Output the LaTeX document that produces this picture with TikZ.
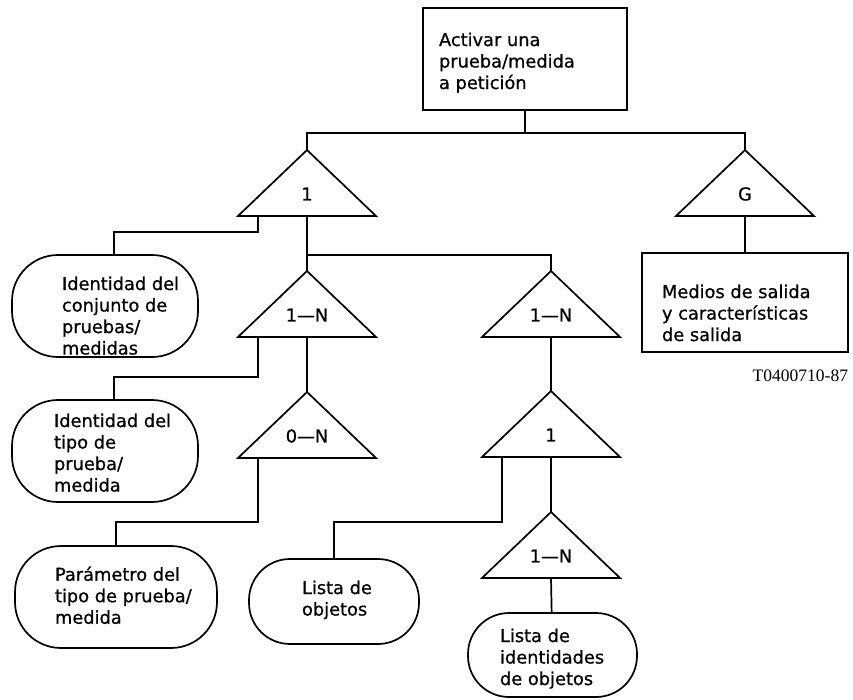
\documentclass[tikz,border=0pt]{standalone}
\usepackage{fontspec}
\setmainfont{DejaVu Sans}[BoldFont=DejaVu Sans, BoldFeatures={FakeBold=0.7}]
\newfontfamily\codefont{Liberation Serif}

% Triangle connector block: name, x, apex y, label
\newcommand{\ctri}[4]{%
  \coordinate (#1) at (#2,#3);
  \coordinate (#1-b) at (#2,#3+66);
  \coordinate (#1-bl) at (#2-49,#3+66);
  \draw[wire, line join=miter] (#2,#3) -- (#2-69,#3+66) -- (#2+69,#3+66) -- cycle;
  \node[tlabel] (#1-t) at (#2,#3+44) {#4};
}

\begin{document}
\begin{tikzpicture}[x=1pt,y=-1pt,
  every node/.style={inner sep=0pt, outer sep=0pt},
  wire/.style={line width=1.7pt},
  boxnode/.style={draw, line width=1.7pt, rectangle},
  pill/.style={draw, line width=1.7pt, rectangle, rounded corners=46pt},
  body/.style={font=\fontsize{17.8}{21.5}\selectfont\bfseries, align=left, anchor=north west},
  tlabel/.style={font=\fontsize{17.8}{21.5}\selectfont\bfseries}
]
\useasboundingbox (0,0) rectangle (853,699);

% boxes and terminal items
\node[boxnode, minimum width=204pt, minimum height=102pt] (act) at (525,59) {};
\node[boxnode, minimum width=206pt, minimum height=99pt] (med) at (745,302.5) {};
\node[pill, minimum width=186pt, minimum height=102pt] (p1) at (105,306) {};
\node[pill, minimum width=186pt, minimum height=102pt] (p2) at (105,451) {};
\node[pill, minimum width=202pt, minimum height=102pt] (p3) at (116,597) {};
\node[pill, rounded corners=41pt, minimum width=170pt, minimum height=85pt] (p4) at (334,601.5) {};
\node[pill, rounded corners=41pt, minimum width=169pt, minimum height=84pt] (p5) at (552.5,655) {};

% texts
\node[body] (act-txt) at (439,46-13.5) {Activar una\\prueba/medida\\a petición};
\node[body] (med-txt) at (662,298-13.5) {Medios de salida\\y características\\de salida};
\node[body] (p1-txt) at (62,290-13.5) {Identidad del\\conjunto de\\pruebas/\\medidas};
\node[body] (p2-txt) at (54,427-13.5) {Identidad del\\tipo de\\prueba/\\medida};
\node[body] (p3-txt) at (55,580-13.5) {Parámetro del\\tipo de prueba/\\medida};
\node[body] (p4-txt) at (302,594-13.5) {Lista de\\objetos};
\node[body] (p5-txt) at (500,642-13.5) {Lista de\\identidades\\de objetos};
\node[font=\codefont\fontsize{17.5}{20}\selectfont, anchor=base east] (code) at (848,381) {T0400710-87};

% triangle blocks
\ctri{t1}{307}{150}{1}
\ctri{tg}{745}{150}{G}
\ctri{t2}{307}{271}{1---N}
\ctri{t3}{551}{271}{1---N}
\ctri{t4}{307}{392}{0---N}
\ctri{t5}{551}{391}{1}
\ctri{t6}{551}{512}{1---N}

% connectors
\coordinate (busL) at (307,133);
\draw[wire] (t1) -- (busL) -| (tg);
\draw[wire] (act) -- (act |- busL);
\draw[wire] (tg-b) -- (med);
\draw[wire] (t1-bl) -- ++(0,16) -| ([xshift=9pt]p1.north);
\draw[wire] (t1-b) -- (t2);
\draw[wire] ([yshift=16pt]t2) -| (t3);
\draw[wire] (t2-bl) -- ++(0,40) -| ([xshift=9pt]p2.north);
\draw[wire] (t2-b) -- (t4);
\draw[wire] (t4-bl) -- ++(0,64) -| (p3);
\draw[wire] (t3-b) -- (t5);
\draw[wire] (t5-bl) -- ++(0,65) -| (p4);
\draw[wire] (t5-b) -- (t6);
\draw[wire] (t6-b) -- (p5);
\end{tikzpicture}
\end{document}
